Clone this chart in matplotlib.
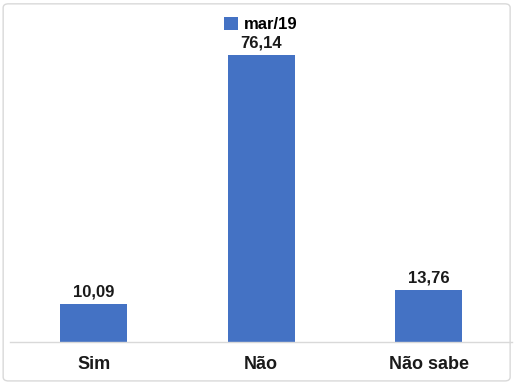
import matplotlib.pyplot as plt
from matplotlib.patches import FancyBboxPatch

plt.rcParams['font.family'] = ['Liberation Sans', 'DejaVu Sans']

# Data
categories = ['Sim', 'Não', 'Não sabe']
values = [10.09, 76.14, 13.76]
series_name = 'mar/19'

fig = plt.figure(figsize=(5.27, 3.84), dpi=100)

# Rounded light-gray frame around the whole chart
frame = FancyBboxPatch((0.006, 0.008), 0.962, 0.982, boxstyle='round,pad=0,rounding_size=0.01',
                       transform=fig.transFigure, facecolor='none', edgecolor='#d9d9d9',
                       linewidth=1.0, zorder=-1)
fig.patches.append(frame)

ax = fig.add_axes([0.019, 0.109, 0.953, 0.787])
ax.set_facecolor('none')

x = range(len(categories))
bars = ax.bar(x, values, width=0.4, color='#4472C4', label=series_name, zorder=2)

# Value labels above bars
for b, v in zip(bars, values):
    ax.annotate(f'{v:.2f}'.replace('.', ','), (b.get_x() + b.get_width() / 2, v),
                textcoords='offset points', xytext=(0, 3), ha='center', va='bottom',
                fontsize=12, fontweight='bold', color='#1a1a1a')

ax.set_xlim(-0.5, 2.5)
ax.set_ylim(0, 80)
ax.set_xticks(list(x))
ax.set_xticklabels(categories, fontsize=13, fontweight='bold', color='#1a1a1a')
ax.tick_params(axis='x', length=0, pad=10)
ax.set_yticks([])

for side in ['top', 'right', 'left']:
    ax.spines[side].set_visible(False)
ax.spines['bottom'].set_color('#d9d9d9')
ax.spines['bottom'].set_linewidth(1.0)

leg = ax.legend(loc='upper center', bbox_to_anchor=(0.5, 1.125), frameon=False,
                prop={'size': 12, 'weight': 'bold'}, handlelength=0.8, handleheight=0.8,
                handletextpad=0.4)

fig.savefig('out.png', dpi=100)
